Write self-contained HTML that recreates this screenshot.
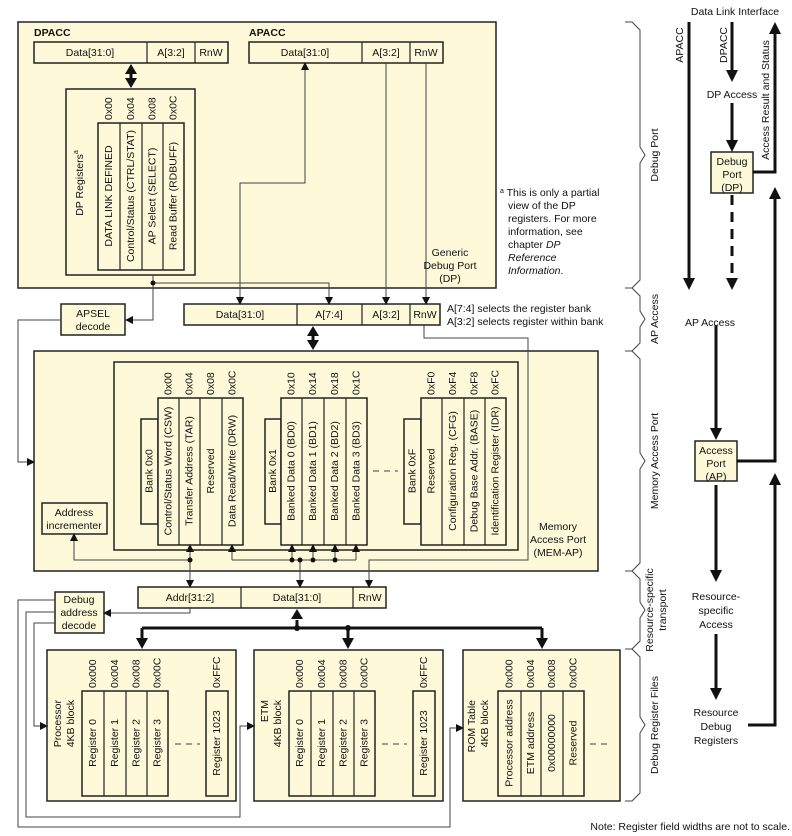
<!DOCTYPE html>
<html><head><meta charset="utf-8"><style>
html,body{margin:0;padding:0;background:#fff}
svg{display:block}
text{font-family:"Liberation Sans",Arial,sans-serif;font-size:10.5px;fill:#111}
.b{font-weight:bold}
.r{text-anchor:middle;dominant-baseline:central}
</style></head><body>
<svg width="792" height="836" viewBox="0 0 792 836" xmlns="http://www.w3.org/2000/svg">
<defs>
<marker id="a" markerWidth="8" markerHeight="8" refX="7" refY="4" orient="auto" markerUnits="userSpaceOnUse"><path d="M0,0L8,4L0,8z" fill="#111"/></marker>
</defs>
<g fill="#fdf9d9" stroke="#222" stroke-width="1.5">
<rect x="18" y="22" width="478" height="266"/>
<rect x="34" y="42" width="194" height="21"/>
<rect x="249" y="42" width="194" height="21"/>
<rect x="66" y="89" width="129" height="186"/>
<rect x="98" y="123" width="86" height="147"/>
<rect x="61" y="304" width="64" height="31"/>
<rect x="184" y="304" width="256" height="21"/>
<rect x="34" y="351" width="564" height="220"/>
<rect x="114" y="362" width="404" height="188"/>
<rect x="141" y="419" width="17" height="105"/>
<rect x="158" y="398" width="85" height="147"/>
<rect x="265" y="419" width="16" height="105"/>
<rect x="281" y="398" width="86" height="147"/>
<rect x="404" y="419" width="17" height="105"/>
<rect x="421" y="398" width="85" height="147"/>
<rect x="42" y="503" width="65" height="31"/>
<rect x="138" y="587" width="248" height="21"/>
<rect x="55" y="592" width="49" height="41"/>
<rect x="47" y="650" width="189" height="151"/>
<rect x="82" y="691" width="86" height="105"/>
<rect x="206" y="691" width="22" height="105"/>
<rect x="254" y="650" width="189" height="151"/>
<rect x="289" y="691" width="86" height="105"/>
<rect x="413" y="691" width="22" height="105"/>
<rect x="463" y="650" width="157" height="151"/>
<rect x="498" y="691" width="86" height="105"/>
<rect x="711" y="152" width="42" height="41"/>
<rect x="695" y="441" width="42" height="40"/>
</g>
<g stroke="#222" stroke-width="1.2" fill="none">
<path d="M147,42V63M195,42V63M362,42V63M410,42V63"/>
<path d="M120,123V270M142,123V270M163,123V270"/>
<path d="M297,304V325M362,304V325M410,304V325"/>
<path d="M179,398V545M200,398V545M222,398V545M302,398V545M324,398V545M346,398V545M442,398V545M464,398V545M485,398V545"/>
<path d="M241,587V608M353,587V608"/>
<path d="M104,691V796M126,691V796M147,691V796M311,691V796M333,691V796M354,691V796M521,691V796M541,691V796M563,691V796"/>
</g>
<g stroke="#444" stroke-width="1" fill="none">
<path d="M153,275V320H126" marker-end="url(#a)"/>
<path d="M153,283H329V304" marker-end="url(#a)"/>
<path d="M240,304V183H305V63" marker-end="url(#a)"/>
<path d="M240,183V304" marker-end="url(#a)"/>
<path d="M386,63V304" marker-end="url(#a)"/>
<path d="M426,63V304" marker-end="url(#a)"/>
<path d="M424,325V338H528V560H369V587" marker-end="url(#a)"/>
<path d="M61,320H18V462H34" marker-end="url(#a)"/>
<path d="M190,560H74V534" marker-end="url(#a)"/>
<path d="M190,560V545" marker-end="url(#a)"/>
<path d="M190,560V587" marker-end="url(#a)"/>
<path d="M190,608V613H104" marker-end="url(#a)"/>
<path d="M232,560H356"/>
<path d="M232,560V545" marker-end="url(#a)"/>
<path d="M292,560V545" marker-end="url(#a)"/>
<path d="M313,560V545" marker-end="url(#a)"/>
<path d="M335,560V545" marker-end="url(#a)"/>
<path d="M356,560V545" marker-end="url(#a)"/>
<path d="M300,560V587" marker-end="url(#a)"/>
<path d="M55,600H18V827H450V728H463" marker-end="url(#a)"/>
<path d="M55,612H26V817H240V726H254" marker-end="url(#a)"/>
<path d="M55,623H34V726H47" marker-end="url(#a)"/>
<path d="M373,471H398M175,744H200M382,744H407M590,744H612" stroke-dasharray="6,5"/>
<path d="M625,22H632L640,30V147L645,155L640,163V280L632,288H625"/>
<path d="M625,288H632L640,296V311L645,319L640,327V343L632,351H625"/>
<path d="M625,351H632L640,359V453L645,461L640,469V563L632,571H625"/>
<path d="M625,571H632L640,579V602L645,610L640,618V641L632,649H625"/>
<path d="M625,649H632L640,657V717L645,725L640,733V793L632,801H625"/>
</g>
<g fill="#111">
<circle cx="153" cy="283" r="2.5"/><circle cx="190" cy="560" r="2.5"/>
<circle cx="292" cy="560" r="2.5"/><circle cx="300" cy="560" r="2.5"/><circle cx="313" cy="560" r="2.5"/><circle cx="335" cy="560" r="2.5"/>
<circle cx="297" cy="628" r="3"/><circle cx="348" cy="628" r="3"/>
</g>
<g stroke="#111" stroke-width="3" fill="none">
<path d="M131,74V78" /><path d="M313,336V340"/>
<path d="M297,620V628"/>
<path d="M142,628H542"/>
<path d="M142,628V640"/><path d="M348,628V640"/><path d="M542,628V640"/>
<path d="M689,22V280"/><path d="M732,22V72"/><path d="M732,103V142"/>
<path d="M753,172H775V32"/><path d="M716,325V430"/><path d="M737,461H775V197"/>
<path d="M716,485V572"/><path d="M716,634V690"/><path d="M748,725H775V483"/>
<path d="M732,195V280" stroke-dasharray="10,7"/>
</g>
<g fill="#111">
<path d="M125,74L131,64L137,74zM125,78L131,88L137,78z"/>
<path d="M307,336L313,326L319,336zM307,340L313,350L319,340z"/>
<path d="M291,619L297,609L303,619z"/>
<path d="M136,638L142,649L148,638zM342,638L348,649L354,638zM536,638L542,649L548,638z"/>
<path d="M683,278L689,290L695,278zM726,70L732,82L738,70zM726,140L732,152L738,140zM726,278L732,290L738,278z"/>
<path d="M769,34L775,22L781,34zM769,199L775,187L781,199zM769,485L775,473L781,485z"/>
<path d="M710,428L716,440L722,428zM710,570L716,582L722,570zM710,688L716,700L722,688z"/>
</g>
<text x="34" y="36" class="b">DPACC</text>
<text x="249" y="36" class="b">APACC</text>
<text x="90" y="56" text-anchor="middle">Data[31:0]</text>
<text x="171" y="56" text-anchor="middle">A[3:2]</text>
<text x="211" y="56" text-anchor="middle">RnW</text>
<text x="305" y="56" text-anchor="middle">Data[31:0]</text>
<text x="386" y="56" text-anchor="middle">A[3:2]</text>
<text x="426" y="56" text-anchor="middle">RnW</text>
<text class="r" transform="translate(80,183) rotate(-90)">DP Registers<tspan font-size="7" dy="-4">a</tspan></text>
<text transform="translate(109,120) rotate(-90)" dominant-baseline="central">0x00</text>
<text transform="translate(131,120) rotate(-90)" dominant-baseline="central">0x04</text>
<text transform="translate(152.5,120) rotate(-90)" dominant-baseline="central">0x08</text>
<text transform="translate(173.5,120) rotate(-90)" dominant-baseline="central">0x0C</text>
<text class="r" transform="translate(109,196) rotate(-90)">DATA LINK DEFINED</text>
<text class="r" transform="translate(131,196) rotate(-90)">Control/Status (CTRL/STAT)</text>
<text class="r" transform="translate(152.5,196) rotate(-90)">AP Select (SELECT)</text>
<text class="r" transform="translate(173.5,196) rotate(-90)">Read Buffer (RDBUFF)</text>
<text x="450" y="256" text-anchor="middle">Generic</text>
<text x="450" y="269" text-anchor="middle">Debug Port</text>
<text x="450" y="282" text-anchor="middle">(DP)</text>
<text x="500" y="196" font-size="10"><tspan font-size="7" dy="-3">a</tspan><tspan dy="3"> This is only a partial</tspan></text>
<text x="508" y="209" font-size="10">view of the DP</text>
<text x="508" y="222" font-size="10">registers. For more</text>
<text x="508" y="235" font-size="10">information, see</text>
<text x="508" y="248" font-size="10">chapter <tspan font-style="italic">DP</tspan></text>
<text x="508" y="261" font-size="10" font-style="italic">Reference</text>
<text x="508" y="274" font-size="10"><tspan font-style="italic">Information</tspan>.</text>
<text x="93" y="317" text-anchor="middle">APSEL</text>
<text x="93" y="330" text-anchor="middle">decode</text>
<text x="240" y="318" text-anchor="middle">Data[31:0]</text>
<text x="329" y="318" text-anchor="middle">A[7:4]</text>
<text x="386" y="318" text-anchor="middle">A[3:2]</text>
<text x="425" y="318" text-anchor="middle">RnW</text>
<text x="447" y="312" font-size="10">A[7:4] selects the register bank</text>
<text x="447" y="325" font-size="10">A[3:2] selects register within bank</text>
<text class="r" transform="translate(149.5,471) rotate(-90)">Bank 0x0</text>
<text class="r" transform="translate(273,471) rotate(-90)">Bank 0x1</text>
<text class="r" transform="translate(412.5,471) rotate(-90)">Bank 0xF</text>
<text class="r" transform="translate(168.5,471) rotate(-90)">Control/Status Word (CSW)</text>
<text class="r" transform="translate(189.5,471) rotate(-90)">Transfer Address (TAR)</text>
<text class="r" transform="translate(211,471) rotate(-90)">Reserved</text>
<text class="r" transform="translate(232.5,471) rotate(-90)">Data Read/Write (DRW)</text>
<text class="r" transform="translate(291.5,471) rotate(-90)">Banked Data 0 (BD0)</text>
<text class="r" transform="translate(313,471) rotate(-90)">Banked Data 1 (BD1)</text>
<text class="r" transform="translate(335,471) rotate(-90)">Banked Data 2 (BD2)</text>
<text class="r" transform="translate(356.5,471) rotate(-90)">Banked Data 3 (BD3)</text>
<text class="r" transform="translate(431.5,471) rotate(-90)">Reserved</text>
<text class="r" transform="translate(453,471) rotate(-90)">Configuration Reg. (CFG)</text>
<text class="r" transform="translate(474.5,471) rotate(-90)">Debug Base Addr. (BASE)</text>
<text class="r" transform="translate(495.5,471) rotate(-90)">Identification Register (IDR)</text>
<g dominant-baseline="central">
<text transform="translate(168.5,395) rotate(-90)">0x00</text>
<text transform="translate(189.5,395) rotate(-90)">0x04</text>
<text transform="translate(211,395) rotate(-90)">0x08</text>
<text transform="translate(232.5,395) rotate(-90)">0x0C</text>
<text transform="translate(291.5,395) rotate(-90)">0x10</text>
<text transform="translate(313,395) rotate(-90)">0x14</text>
<text transform="translate(335,395) rotate(-90)">0x18</text>
<text transform="translate(356.5,395) rotate(-90)">0x1C</text>
<text transform="translate(431.5,395) rotate(-90)">0xF0</text>
<text transform="translate(453,395) rotate(-90)">0xF4</text>
<text transform="translate(474.5,395) rotate(-90)">0xF8</text>
<text transform="translate(495.5,395) rotate(-90)">0xFC</text>
</g>
<text x="74" y="516" text-anchor="middle">Address</text>
<text x="74" y="529" text-anchor="middle">incrementer</text>
<text x="558" y="530" text-anchor="middle">Memory</text>
<text x="558" y="543" text-anchor="middle">Access Port</text>
<text x="558" y="556" text-anchor="middle">(MEM-AP)</text>
<text x="190" y="601" text-anchor="middle">Addr[31:2]</text>
<text x="297" y="601" text-anchor="middle">Data[31:0]</text>
<text x="370" y="601" text-anchor="middle">RnW</text>
<text x="79" y="603" text-anchor="middle">Debug</text>
<text x="79" y="616" text-anchor="middle">address</text>
<text x="79" y="629" text-anchor="middle">decode</text>
<g text-anchor="end" dominant-baseline="central">
<text transform="translate(58,700) rotate(-90)">Processor</text>
<text transform="translate(71,700) rotate(-90)">4KB block</text>
<text transform="translate(265,700) rotate(-90)">ETM</text>
<text transform="translate(278,700) rotate(-90)">4KB block</text>
<text transform="translate(472,700) rotate(-90)">ROM Table</text>
<text transform="translate(485,700) rotate(-90)">4KB block</text>
</g>
<g dominant-baseline="central">
<text transform="translate(93,688) rotate(-90)">0x000</text>
<text transform="translate(115,688) rotate(-90)">0x004</text>
<text transform="translate(136.5,688) rotate(-90)">0x008</text>
<text transform="translate(157.5,688) rotate(-90)">0x00C</text>
<text transform="translate(217,688) rotate(-90)">0xFFC</text>
<text transform="translate(300,688) rotate(-90)">0x000</text>
<text transform="translate(322,688) rotate(-90)">0x004</text>
<text transform="translate(343.5,688) rotate(-90)">0x008</text>
<text transform="translate(364.5,688) rotate(-90)">0x00C</text>
<text transform="translate(424,688) rotate(-90)">0xFFC</text>
<text transform="translate(509.5,688) rotate(-90)">0x000</text>
<text transform="translate(531,688) rotate(-90)">0x004</text>
<text transform="translate(552,688) rotate(-90)">0x008</text>
<text transform="translate(573.5,688) rotate(-90)">0x00C</text>
</g>
<text class="r" transform="translate(93,743) rotate(-90)">Register 0</text>
<text class="r" transform="translate(115,743) rotate(-90)">Register 1</text>
<text class="r" transform="translate(136.5,743) rotate(-90)">Register 2</text>
<text class="r" transform="translate(157.5,743) rotate(-90)">Register 3</text>
<text class="r" transform="translate(217,743) rotate(-90)">Register 1023</text>
<text class="r" transform="translate(300,743) rotate(-90)">Register 0</text>
<text class="r" transform="translate(322,743) rotate(-90)">Register 1</text>
<text class="r" transform="translate(343.5,743) rotate(-90)">Register 2</text>
<text class="r" transform="translate(364.5,743) rotate(-90)">Register 3</text>
<text class="r" transform="translate(424,743) rotate(-90)">Register 1023</text>
<text class="r" transform="translate(509.5,743) rotate(-90)">Processor address</text>
<text class="r" transform="translate(531,743) rotate(-90)">ETM address</text>
<text class="r" transform="translate(552,743) rotate(-90)">0x00000000</text>
<text class="r" transform="translate(573.5,743) rotate(-90)">Reserved</text>
<text x="790" y="830" text-anchor="end" font-size="10">Note: Register field widths are not to scale.</text>
<text class="r" transform="translate(655,155) rotate(-90)">Debug Port</text>
<text class="r" transform="translate(655,319) rotate(-90)">AP Access</text>
<text class="r" transform="translate(655,461) rotate(-90)">Memory Access Port</text>
<text class="r" transform="translate(650,610) rotate(-90)">Resource-specific</text>
<text class="r" transform="translate(663,610) rotate(-90)">transport</text>
<text class="r" transform="translate(655,725) rotate(-90)">Debug Register Files</text>
<text x="735" y="15" text-anchor="middle">Data Link Interface</text>
<text class="r" transform="translate(680,45) rotate(-90)">APACC</text>
<text class="r" transform="translate(724,45) rotate(-90)">DPACC</text>
<text class="r" transform="translate(766,100) rotate(-90)">Access Result and Status</text>
<text x="732" y="98" text-anchor="middle">DP Access</text>
<text x="732" y="165" text-anchor="middle">Debug</text>
<text x="732" y="178" text-anchor="middle">Port</text>
<text x="732" y="191" text-anchor="middle">(DP)</text>
<text x="710" y="326" text-anchor="middle">AP Access</text>
<text x="716" y="454" text-anchor="middle">Access</text>
<text x="716" y="467" text-anchor="middle">Port</text>
<text x="716" y="480" text-anchor="middle">(AP)</text>
<text x="716" y="600" text-anchor="middle">Resource-</text>
<text x="716" y="614" text-anchor="middle">specific</text>
<text x="716" y="628" text-anchor="middle">Access</text>
<text x="716" y="716" text-anchor="middle">Resource</text>
<text x="716" y="730" text-anchor="middle">Debug</text>
<text x="716" y="744" text-anchor="middle">Registers</text>
</svg>
</body></html>
